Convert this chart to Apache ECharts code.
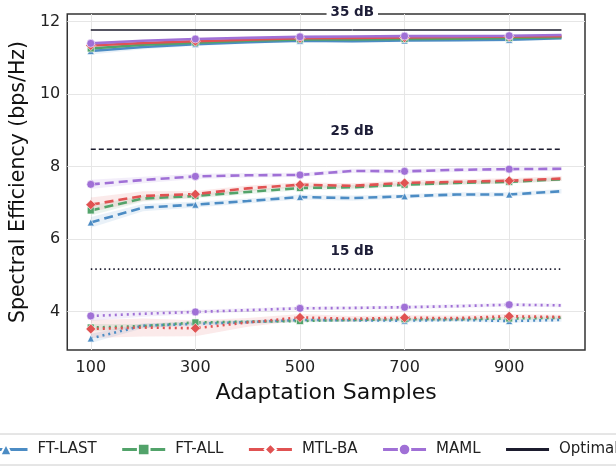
<!DOCTYPE html>
<html><head><meta charset="utf-8">
<script src="https://cdn.jsdelivr.net/npm/echarts@6/dist/echarts.min.js"></script>
<style>html,body{margin:0;padding:0;background:#fff}#c{width:616px;height:466px}</style>
</head><body><div id="c"></div>
<script>
// ---------- data ----------
const samples = [100, 200, 300, 400, 500, 600, 700, 800, 900, 1000];
const xTicks = [100, 300, 500, 700, 900];
const yTicks = [4, 6, 8, 10, 12];
const snrLabels = ['35 dB', '25 dB', '15 dB'];
const optimal = [11.77, 8.48, 5.17];

// 35 dB (solid)
const ftLast35 = [11.19, 11.30, 11.38, 11.43, 11.47, 11.46, 11.48, 11.49, 11.50, 11.54];
const ftAll35  = [11.26, 11.36, 11.42, 11.47, 11.51, 11.51, 11.52, 11.53, 11.55, 11.57];
const mtlBa35  = [11.34, 11.41, 11.46, 11.50, 11.54, 11.55, 11.56, 11.58, 11.59, 11.60];
const maml35   = [11.40, 11.47, 11.52, 11.55, 11.58, 11.59, 11.60, 11.60, 11.61, 11.63];
// 25 dB (dashed)
const ftLast25 = [6.46, 6.87, 6.95, 7.05, 7.16, 7.13, 7.18, 7.23, 7.23, 7.32];
const ftAll25  = [6.79, 7.12, 7.19, 7.30, 7.41, 7.43, 7.50, 7.55, 7.58, 7.65];
const mtlBa25  = [6.95, 7.19, 7.24, 7.40, 7.50, 7.47, 7.55, 7.58, 7.61, 7.67];
const maml25   = [7.51, 7.63, 7.73, 7.76, 7.77, 7.88, 7.87, 7.91, 7.93, 7.94];
// 15 dB (dotted)
const ftLast15 = [3.26, 3.61, 3.66, 3.71, 3.77, 3.76, 3.75, 3.77, 3.74, 3.77];
const ftAll15  = [3.56, 3.60, 3.70, 3.72, 3.74, 3.77, 3.79, 3.79, 3.81, 3.83];
const mtlBa15  = [3.52, 3.56, 3.54, 3.70, 3.84, 3.80, 3.83, 3.82, 3.87, 3.85];
const maml15   = [3.88, 3.94, 3.99, 4.04, 4.09, 4.10, 4.12, 4.15, 4.19, 4.17];

// confidence half-widths
const ftLast35Ci = [0.10, 0.06, 0.05, 0.04, 0.04, 0.04, 0.04, 0.04, 0.04, 0.04];
const ftAll35Ci  = [0.06, 0.04, 0.04, 0.03, 0.03, 0.03, 0.03, 0.03, 0.03, 0.03];
const mtlBa35Ci  = [0.04, 0.03, 0.03, 0.03, 0.03, 0.03, 0.03, 0.03, 0.03, 0.03];
const maml35Ci   = [0.04, 0.03, 0.03, 0.03, 0.03, 0.03, 0.03, 0.03, 0.03, 0.03];
const ftLast25Ci = [0.15, 0.10, 0.08, 0.07, 0.07, 0.07, 0.06, 0.06, 0.06, 0.06];
const ftAll25Ci  = [0.14, 0.08, 0.06, 0.06, 0.06, 0.06, 0.05, 0.05, 0.05, 0.05];
const mtlBa25Ci  = [0.20, 0.13, 0.09, 0.08, 0.07, 0.07, 0.07, 0.07, 0.07, 0.07];
const maml25Ci   = [0.13, 0.09, 0.07, 0.06, 0.06, 0.06, 0.06, 0.06, 0.06, 0.06];
const ftLast15Ci = [0.13, 0.07, 0.05, 0.05, 0.05, 0.05, 0.05, 0.05, 0.05, 0.05];
const ftAll15Ci  = [0.10, 0.06, 0.04, 0.04, 0.04, 0.04, 0.04, 0.04, 0.04, 0.04];
const mtlBa15Ci  = [0.25, 0.25, 0.22, 0.12, 0.09, 0.08, 0.07, 0.07, 0.06, 0.06];
const maml15Ci   = [0.14, 0.08, 0.06, 0.05, 0.05, 0.05, 0.05, 0.05, 0.05, 0.05];

// ---------- styling ----------
const methods = [
  {name: 'FT-LAST', color: '#4c8cc4', symbol: 'triangle', size: 7,
   mean: [ftLast35, ftLast25, ftLast15], ci: [ftLast35Ci, ftLast25Ci, ftLast15Ci]},
  {name: 'FT-ALL', color: '#52a36a', symbol: 'rect', size: 7,
   mean: [ftAll35, ftAll25, ftAll15], ci: [ftAll35Ci, ftAll25Ci, ftAll15Ci]},
  {name: 'MTL-BA', color: '#e05252', symbol: 'diamond', size: 10,
   mean: [mtlBa35, mtlBa25, mtlBa15], ci: [mtlBa35Ci, mtlBa25Ci, mtlBa15Ci]},
  {name: 'MAML', color: '#a070d6', symbol: 'circle', size: 8,
   mean: [maml35, maml25, maml15], ci: [maml35Ci, maml25Ci, maml15Ci]}
];
const lineTypes = ['solid', [9, 5], [2, 4]];
const optTypes = ['solid', [5, 3], [1.5, 3]];
const optColor = '#1c1c2e';

const bands = [];
methods.forEach(m => { [0, 1, 2].forEach(k => bands.push({m: m, k: k})); });

const series = [];
series.push({
  type: 'custom', name: '_band', silent: true, z: 1, clip: true,
  encode: {x: 0, y: 1},
  data: bands.map(b => [samples[0], b.m.mean[b.k][0]]),
  renderItem: function (params, api) {
    const b = bands[params.dataIndex];
    const mean = b.m.mean[b.k], ci = b.m.ci[b.k];
    const up = samples.map((x, i) => api.coord([x, mean[i] + ci[i]]));
    const lo = samples.map((x, i) => api.coord([x, mean[i] - ci[i]])).reverse();
    return {type: 'polygon', shape: {points: up.concat(lo)},
      style: {fill: b.m.color, opacity: 0.12}};
  }
});
[0, 1, 2].forEach(k => {
  methods.forEach(m => {
    series.push({
      type: 'line', name: m.name, z: 3,
      symbol: m.symbol, symbolSize: m.size, showAllSymbol: true,
      lineStyle: {color: m.color, width: 2.6, type: lineTypes[k], cap: 'butt'},
      itemStyle: {color: m.color, borderColor: '#ffffff', borderWidth: 0.6},
      data: samples.map((x, i) => ({value: [x, m.mean[k][i]], symbol: (i % 2 === 0) ? m.symbol : 'none'}))
    });
  });
});
[0, 1, 2].forEach(k => {
  series.push({
    type: 'line', name: 'Optimal', z: 3, symbol: 'none',
    lineStyle: {color: optColor, width: 1.6, type: optTypes[k]},
    itemStyle: {color: optColor},
    data: [[samples[0], optimal[k]], [samples[samples.length - 1], optimal[k]]]
  });
});
series.push({
  type: 'scatter', name: '_lbl', z: 5, silent: true, symbolSize: 1,
  itemStyle: {color: '#ffffff', opacity: 1},
  label: {show: true, position: 'top', distance: 9,
    formatter: p => snrLabels[p.dataIndex],
    fontFamily: 'DejaVu Sans', fontWeight: 'bold', fontSize: 13.5, color: '#1e1e38',
    backgroundColor: '#ffffff', padding: [1, 4]},
  data: optimal.map(v => [600, v])
});

const chart = echarts.init(document.getElementById('c'), null, {renderer: 'canvas'});
chart.setOption({
  animation: false,
  backgroundColor: '#ffffff',
  textStyle: {fontFamily: 'DejaVu Sans'},
  grid: {left: 64, right: 31, top: 14, bottom: 116, show: true,
    borderColor: '#333333', borderWidth: 1.5, backgroundColor: 'transparent'},
  xAxis: {
    type: 'value', min: 55, max: 1045,
    name: 'Adaptation Samples', nameLocation: 'middle', nameGap: 32,
    nameTextStyle: {fontSize: 22, color: '#111', fontFamily: 'DejaVu Sans'},
    axisLine: {show: false}, axisTick: {show: false, customValues: xTicks},
    axisLabel: {customValues: xTicks, fontSize: 16, color: '#222', margin: 10},
    splitLine: {show: true, lineStyle: {color: '#e6e6e6', width: 1}}
  },
  yAxis: {
    type: 'value', min: 2.94, max: 12.21,
    name: 'Spectral Efficiency (bps/Hz)', nameLocation: 'middle', nameGap: 31,
    nameTextStyle: {fontSize: 20.5, color: '#111', fontFamily: 'DejaVu Sans'},
    axisLine: {show: false}, axisTick: {show: false, customValues: yTicks},
    axisLabel: {customValues: yTicks, fontSize: 16, color: '#222', margin: 7},
    splitLine: {show: true, lineStyle: {color: '#e6e6e6', width: 1}}
  },
  legend: {
    data: ['FT-LAST', 'FT-ALL', 'MTL-BA', 'MAML', {name: 'Optimal', itemStyle: {opacity: 0}}],
    left: -27, top: 434, width: 760, orient: 'horizontal',
    itemWidth: 43, itemHeight: 14.5, itemGap: 24,
    lineStyle: {width: 3, type: 'solid'},
    padding: [8, 10], borderColor: '#cccccc', borderWidth: 1,
    textStyle: {fontSize: 15, color: '#222', fontFamily: 'DejaVu Sans', padding: [0, 0, 0, 5]}
  },
  series: series
});
</script>
</body></html>
